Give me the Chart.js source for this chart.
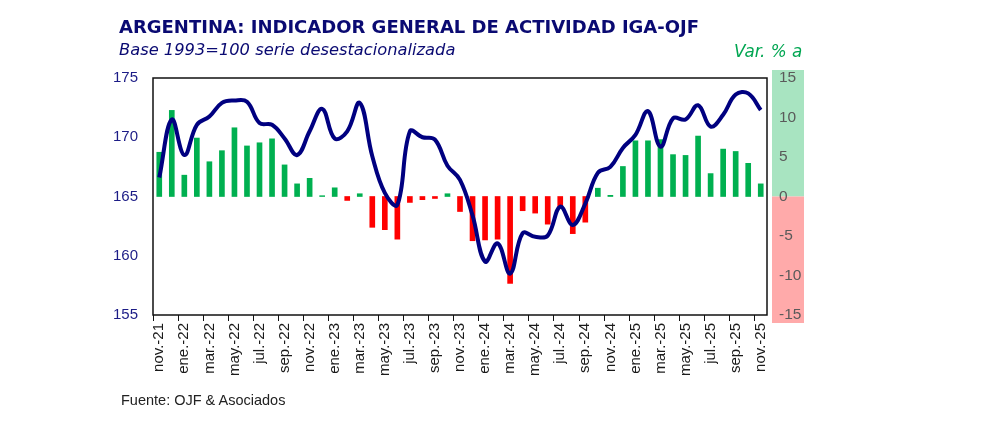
<!DOCTYPE html>
<html>
<head>
<meta charset="utf-8">
<script src="https://cdn.jsdelivr.net/npm/chart.js@4.4.1/dist/chart.umd.min.js"></script>
<style>
  html, body { margin: 0; padding: 0; background: #fff; }
  #wrap { position: relative; width: 990px; height: 430px; }
  #wrap canvas { position: absolute; left: 0; top: 0; }
  .txt { position: absolute; white-space: nowrap; line-height: 1; }
  #title { left: 119px; top: 16px; font: bold 18px "DejaVu Sans", sans-serif; color: #0a0a72; }
  #subtitle { left: 119px; top: 40px; font: oblique 16.3px "DejaVu Sans", sans-serif; color: #0a0a72; }
  #varlabel { left: 734px; top: 41px; font: oblique 16.8px "DejaVu Sans", sans-serif; color: #00a651; }
  #source { left: 121px; top: 392px; font: 14.5px "Liberation Sans", Arial, sans-serif; color: #222; }
</style>
</head>
<body>
<div id="wrap">
  <canvas id="igaChart" width="990" height="430"></canvas>
  <div class="txt" id="title">ARGENTINA: INDICADOR GENERAL DE ACTIVIDAD IGA-OJF</div>
  <div class="txt" id="subtitle">Base 1993=100 serie desestacionalizada</div>
  <div class="txt" id="varlabel">Var. % a</div>
  <div class="txt" id="source">Fuente: OJF &amp; Asociados</div>
</div>
<script>
// Months from nov-21 to nov-25
const months = [
  'nov.-21', 'dic.-21',
  'ene.-22', 'feb.-22', 'mar.-22', 'abr.-22', 'may.-22', 'jun.-22',
  'jul.-22', 'ago.-22', 'sep.-22', 'oct.-22', 'nov.-22', 'dic.-22',
  'ene.-23', 'feb.-23', 'mar.-23', 'abr.-23', 'may.-23', 'jun.-23',
  'jul.-23', 'ago.-23', 'sep.-23', 'oct.-23', 'nov.-23', 'dic.-23',
  'ene.-24', 'feb.-24', 'mar.-24', 'abr.-24', 'may.-24', 'jun.-24',
  'jul.-24', 'ago.-24', 'sep.-24', 'oct.-24', 'nov.-24', 'dic.-24',
  'ene.-25', 'feb.-25', 'mar.-25', 'abr.-25', 'may.-25', 'jun.-25',
  'jul.-25', 'ago.-25', 'sep.-25', 'oct.-25', 'nov.-25'
];

// Index level (left axis), base 1993=100, seasonally adjusted
const indexLevel = [
  166.6, 171.5,
  168.5, 171.05, 171.75, 172.9, 173.1, 173.0,
  171.2, 171.05, 169.9, 168.5, 170.5, 172.4,
  169.9, 170.5, 172.9, 168.4, 165.3, 164.3,
  170.5, 170.0, 169.8, 167.6, 166.4, 163.4,
  159.5, 161.05, 158.5, 161.9, 161.6, 161.7,
  164.15, 162.6, 164.4, 167.0, 167.5, 169.1,
  170.2, 172.2, 169.2, 171.6, 171.5, 172.7,
  170.9, 171.9, 173.6, 173.7, 172.3
];

// Year-on-year % change (right axis)
const yoyChange = [
  5.6, 10.9,
  2.7, 7.4, 4.4, 5.8, 8.7, 6.4,
  6.8, 7.3, 4.0, 1.6, 2.3, 0.1,
  1.1, -0.5, 0.35, -3.9, -4.2, -5.4,
  -0.75, -0.4, -0.25, 0.35, -1.9, -5.6,
  -5.5, -5.4, -11.0, -1.8, -2.1, -3.5,
  -1.3, -4.7, -3.25, 1.05, 0.15, 3.8,
  7.05, 7.05, 7.2, 5.3, 5.2, 7.65,
  2.9, 6.0, 5.7, 4.2, 1.6
];

const leftTicks = { min: 155, max: 175, step: 5 };
const rightTicks = { min: -15, max: 15, step: 5 };

const NAVY = '#000080';
const GREEN = '#00b050';
const RED = '#ff0000';

// green / red band behind the right axis labels
const bandPlugin = {
  id: 'rightBand',
  beforeDraw(chart) {
    const y1 = chart.scales.y1;
    const ctx = chart.ctx;
    const x0 = chart.chartArea.right + 5;
    const w = 32;
    const top = y1.getPixelForValue(rightTicks.max) - 8;
    const zero = y1.getPixelForValue(0);
    const bottom = y1.getPixelForValue(rightTicks.min) + 8;
    ctx.save();
    ctx.fillStyle = '#a8e4c1';
    ctx.fillRect(x0, top, w, zero - top);
    ctx.fillStyle = '#ffaaaa';
    ctx.fillRect(x0, zero, w, bottom - zero);
    ctx.restore();
  }
};

// black frame round the plot area
const framePlugin = {
  id: 'frame',
  afterDatasetsDraw(chart) {
    const a = chart.chartArea;
    const ctx = chart.ctx;
    ctx.save();
    ctx.strokeStyle = '#111';
    ctx.lineWidth = 1.5;
    ctx.strokeRect(a.left, a.top, a.right - a.left, a.bottom - a.top);
    ctx.restore();
  }
};

const ctx = document.getElementById('igaChart').getContext('2d');
new Chart(ctx, {
  type: 'bar',
  data: {
    labels: months,
    datasets: [
      {
        type: 'line',
        label: 'IGA-OJF',
        data: indexLevel,
        yAxisID: 'y',
        borderColor: NAVY,
        borderWidth: 4,
        pointRadius: 0,
        tension: 0.4,
        fill: false,
        order: 0
      },
      {
        type: 'bar',
        label: 'Var. % a',
        data: yoyChange,
        yAxisID: 'y1',
        backgroundColor: c => (c.raw >= 0 ? GREEN : RED),
        barThickness: 5,
        order: 1
      }
    ]
  },
  options: {
    responsive: false,
    animation: false,
    layout: { padding: { top: 78, left: 0, right: 0, bottom: 0 } },
    plugins: {
      legend: { display: false },
      tooltip: { enabled: false },
      title: { display: false }
    },
    scales: {
      x: {
        type: 'category',
        offset: true,
        border: { display: false },
        grid: {
          offset: true,
          drawOnChartArea: false,
          drawTicks: true,
          tickLength: 6,
          lineWidth: 1,
          color: c => (c.index % 2 === 0 ? '#111' : 'rgba(0,0,0,0)')
        },
        ticks: {
          autoSkip: false,
          minRotation: 90,
          maxRotation: 90,
          padding: 2,
          color: '#1a1a1a',
          font: { family: 'Liberation Sans', size: 15 },
          callback: (val, i) => (i % 2 === 0 ? months[i] : '')
        },
        afterFit: s => { s.height = 115; }
      },
      y: {
        position: 'left',
        min: leftTicks.min,
        max: leftTicks.max,
        border: { display: false },
        grid: { display: false },
        ticks: {
          stepSize: leftTicks.step,
          padding: 7,
          color: '#1c1c86',
          font: { family: 'Liberation Sans', size: 15 }
        },
        afterFit: s => { s.width = 153; }
      },
      y1: {
        position: 'right',
        min: rightTicks.min,
        max: rightTicks.max,
        border: { display: false },
        grid: { display: false },
        ticks: {
          stepSize: rightTicks.step,
          padding: 4,
          color: '#5a5a5a',
          font: { family: 'Liberation Sans', size: 15.5 }
        },
        afterFit: s => { s.width = 223; }
      }
    }
  },
  plugins: [bandPlugin, framePlugin]
});
</script>
</body>
</html>
